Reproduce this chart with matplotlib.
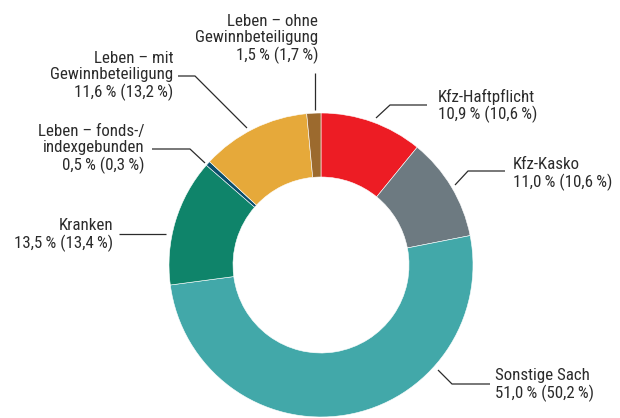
import matplotlib as mpl
mpl.use('Agg')
import matplotlib.pyplot as plt

plt.rcParams['font.family'] = ['Liberation Sans Narrow', 'Roboto Condensed',
                               'Liberation Sans', 'DejaVu Sans']

# segments, clockwise from 12 o'clock
names = ['Kfz-Haftpflicht', 'Kfz-Kasko', 'Sonstige Sach', 'Kranken',
         'Leben – fonds-/\nindexgebunden', 'Leben – mit\nGewinnbeteiligung',
         'Leben – ohne\nGewinnbeteiligung']
shares = [10.9, 11.0, 51.0, 13.5, 0.5, 11.6, 1.5]
prev_shares = [10.6, 10.6, 50.2, 13.4, 0.3, 13.2, 1.7]
colors = ['#ED1C24', '#6D7A81', '#42A8A9', '#0F846A', '#0B4F6C', '#E6A93A', '#9C6A2E']

W, H = 620, 418
fig = plt.figure(figsize=(W / 100, H / 100), dpi=100)
ax = fig.add_axes([0, 0, 1, 1])


def P(x, y):
    return x, H - y


cx, cy = P(321, 265)
ax.pie(shares, colors=colors, startangle=90, counterclock=False,
       center=(cx, cy), radius=152,
       wedgeprops=dict(width=64, linewidth=0.4, edgecolor='white'))
ax.set_xlim(0, W)
ax.set_ylim(0, H)
ax.set_aspect('equal')
ax.axis('off')

# label layout: text anchor, alignment, leader path (pixel coords)
layout = [
    ((438, 106), 'left', [(427, 105), (390, 105), (376, 118)]),
    ((513, 174), 'left', [(505, 171), (468, 171), (455, 185)]),
    ((495, 385), 'left', [(490, 384), (452, 384), (438, 370)]),
    ((113, 235), 'right', [(119, 234), (166, 234)]),
    ((145, 149), 'right', [(152, 149), (190, 149), (205, 163)]),
    ((173, 76), 'right', [(178, 76), (195, 76), (247, 128)]),
    ((318, 39), 'right', [(315, 73), (315, 110)]),
]

tc = '#2b2b2b'
for name, s, p, (pos, ha, path) in zip(names, shares, prev_shares, layout):
    txt = f'{name}\n{s:.1f}\u2009% ({p:.1f}\u2009%)'.replace('.', ',')
    x, y = P(*pos)
    ax.text(x, y, txt, ha=ha, va='center', multialignment=ha,
            fontsize=12.2, color=tc, linespacing=1.1)
    xs, ys = zip(*[P(a, b) for a, b in path])
    ax.plot(xs, ys, color=tc, lw=0.9, solid_capstyle='butt')

plt.savefig('out.png', dpi=100)
